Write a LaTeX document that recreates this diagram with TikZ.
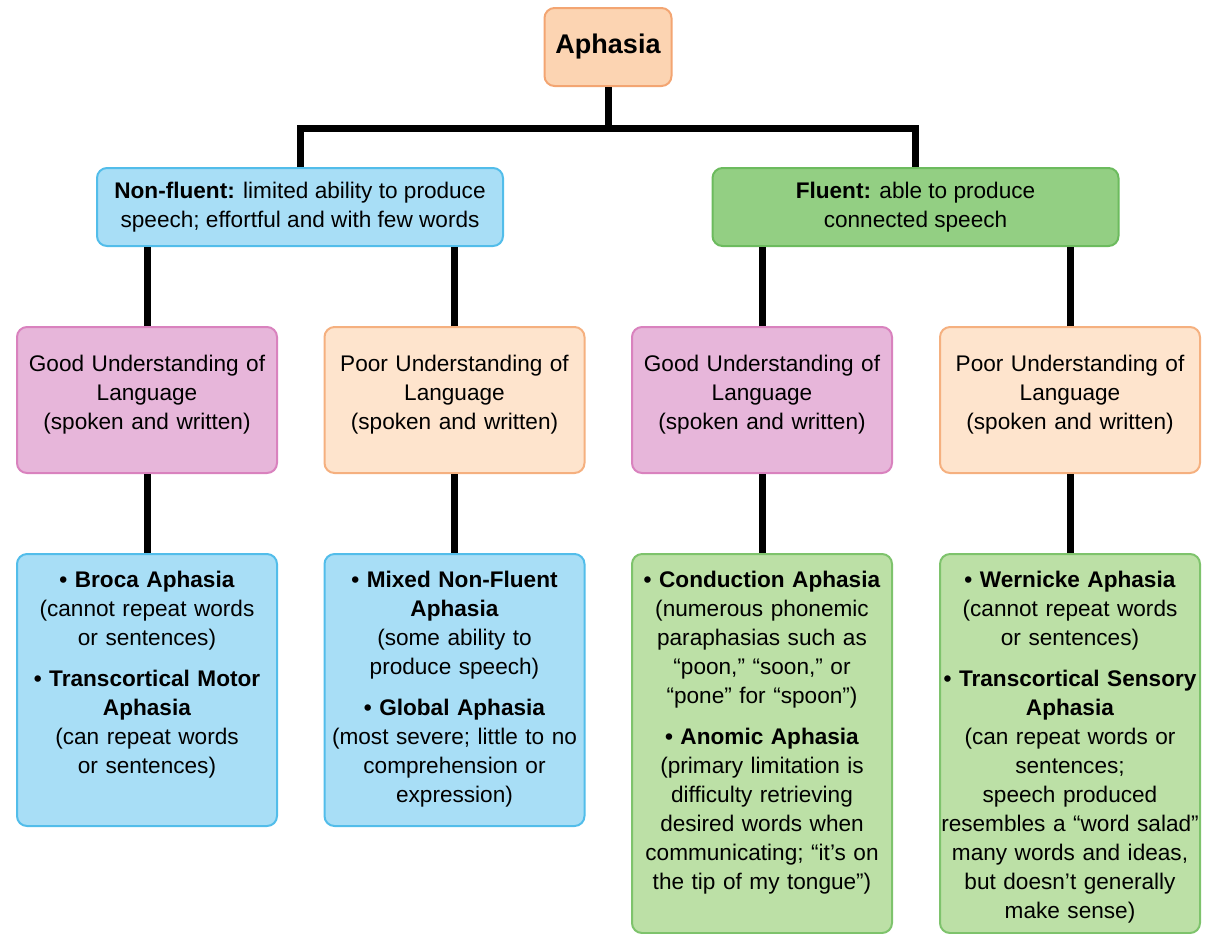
\documentclass[tikz,border=0pt]{standalone}
\usepackage{fontspec}
\setmainfont{Liberation Sans}
\usepackage{tikz}

\definecolor{aphfill}{HTML}{FCD4B2}
\definecolor{aphline}{HTML}{F3A572}
\definecolor{peachfill}{HTML}{FEE4CD}
\definecolor{peachline}{HTML}{F5B07F}
\definecolor{bluefill}{HTML}{A8DEF6}
\definecolor{blueline}{HTML}{52BDEA}
\definecolor{pinkfill}{HTML}{E7B6DA}
\definecolor{pinkline}{HTML}{D982BE}
\definecolor{greenhead}{HTML}{93CF83}
\definecolor{greenheadline}{HTML}{6CBB5E}
\definecolor{greenfill}{HTML}{BCE0A6}
\definecolor{greenline}{HTML}{7EC36C}

\hyphenpenalty=10000
\exhyphenpenalty=10000

\begin{document}
\begin{tikzpicture}[x=0.5pt,y=-0.5pt,
    box/.style={draw, line width=1pt, rounded corners=5pt, align=center, inner sep=3pt,
                font=\fontsize{11.3}{14.5}\selectfont},
    headbox/.style={box, minimum width=203pt, minimum height=39pt},
    kindbox/.style={box, anchor=north, text width=124pt, text height=19pt, text depth=48pt},
    typebox/.style={box, anchor=north, inner xsep=0.5pt, text width=129pt, text height=13.5pt},
    link/.style={line width=3.5pt, black}]
    \useasboundingbox (0,0) rectangle (1213,933);

    \node[box, draw=aphline, fill=aphfill, minimum width=63.5pt, minimum height=39pt,
          font=\fontsize{13.5}{16}\selectfont\bfseries] (aphasia) at (608,47) {Aphasia};

    \node[headbox, draw=blueline, fill=bluefill] (nonfluent) at (300,207)
        {\textbf{Non-fluent:} limited ability to produce\\speech; effortful and with few words};
    \node[headbox, draw=greenheadline, fill=greenhead] (fluent) at (915.5,207)
        {\textbf{Fluent:} able to produce\\connected speech};

    \node[kindbox, draw=pinkline, fill=pinkfill] (goodnf) at (147,326)
        {Good Understanding of\\Language\\(spoken and written)};
    \node[kindbox, draw=peachline, fill=peachfill] (poornf) at (454.5,326)
        {Poor Understanding of\\Language\\(spoken and written)};
    \node[kindbox, draw=pinkline, fill=pinkfill] (goodfl) at (762,326)
        {Good Understanding of\\Language\\(spoken and written)};
    \node[kindbox, draw=peachline, fill=peachfill] (poorfl) at (1070,326)
        {Poor Understanding of\\Language\\(spoken and written)};

    \node[typebox, draw=blueline, fill=bluefill, text depth=116.5pt] (broca) at (147,553)
        {\textbf{\textbullet\ Broca Aphasia}\\(cannot repeat words\\or sentences)\\[6pt]
         \textbf{\textbullet\ Transcortical Motor}\\\textbf{Aphasia}\\(can repeat words\\or sentences)};
    \node[typebox, draw=blueline, fill=bluefill, text depth=116.5pt] (mixed) at (454.5,553)
        {\textbf{\textbullet\ Mixed Non-Fluent}\\\textbf{Aphasia}\\(some ability to\\produce speech)\\[6pt]
         \textbf{\textbullet\ Global Aphasia}\\(most severe; little to no\\comprehension or\\expression)};
    \node[typebox, draw=greenline, fill=greenfill, text depth=170pt] (conduction) at (762,553)
        {\textbf{\textbullet\ Conduction Aphasia}\\(numerous phonemic\\paraphasias such as\\“poon,” “soon,” or\\“pone” for “spoon”)\\[6pt]
         \textbf{\textbullet\ Anomic Aphasia}\\(primary limitation is\\difficulty retrieving\\desired words when\\communicating; “it’s on\\the tip of my tongue”)};
    \node[typebox, draw=greenline, fill=greenfill, text depth=170pt] (wernicke) at (1070,553)
        {\textbf{\textbullet\ Wernicke Aphasia}\\(cannot repeat words\\or sentences)\\[6pt]
         \textbf{\textbullet\ Transcortical Sensory}\\\textbf{Aphasia}\\(can repeat words or\\sentences;\\speech produced\\resembles a “word salad”\\many words and ideas,\\but doesn’t generally\\make sense)};

    \coordinate (bar) at (608,128);
    \draw[link] (aphasia.south) -- (bar);
    \draw[link] (nonfluent.north) |- (bar) -| (fluent.north);

    \draw[link] (goodnf.north) -- (goodnf.north |- nonfluent.south);
    \draw[link] (poornf.north) -- (poornf.north |- nonfluent.south);
    \draw[link] (goodfl.north) -- (goodfl.north |- fluent.south);
    \draw[link] (poorfl.north) -- (poorfl.north |- fluent.south);

    \draw[link] (goodnf.south) -- (broca.north);
    \draw[link] (poornf.south) -- (mixed.north);
    \draw[link] (goodfl.south) -- (conduction.north);
    \draw[link] (poorfl.south) -- (wernicke.north);
\end{tikzpicture}
\end{document}
